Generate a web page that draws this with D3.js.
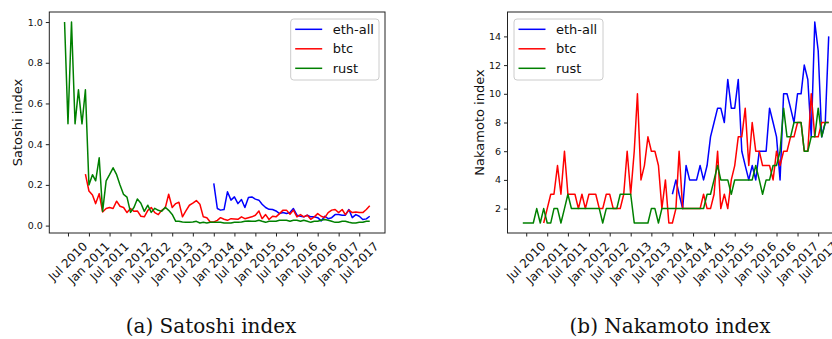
<!DOCTYPE html>
<html><head><meta charset="utf-8">
<script src="https://cdn.jsdelivr.net/npm/d3@7"></script>
<style>body{margin:0;background:#fff}svg{display:block}</style>
</head><body><svg id="c" width="832" height="339"></svg>
<script>
// ---------- data ----------
const tickLabels = ["Jul 2010","Jan 2011","Jul 2011","Jan 2012","Jul 2012","Jan 2013","Jul 2013",
  "Jan 2014","Jul 2014","Jan 2015","Jul 2015","Jan 2016","Jul 2016","Jan 2017","Jul 2017"];
const seriesNames = ["eth-all","btc","rust"];
const seriesColors = ["#0000ff","#ff0000","#008000"];
const seriesStart = ["Jan 2014","Dec 2010","Jun 2010"];   // first month of each series

const satoshiEth = [0.207,0.084,0.076,0.079,0.166,0.125,0.141,0.108,0.128,0.089,0.138,0.141,0.13,0.125,0.105,0.089,
  0.08,0.079,0.072,0.059,0.064,0.059,0.064,0.084,0.051,0.046,0.043,0.051,0.043,0.043,0.039,0.023,0.046,0.034,0.039,
  0.054,0.054,0.051,0.051,0.079,0.039,0.054,0.046,0.03,0.033,0.046];
const satoshiBtc = [0.253,0.17,0.15,0.108,0.157,0.067,0.084,0.089,
  0.084,0.12,0.095,0.089,0.064,0.084,0.07,0.072,
  0.046,0.043,0.075,0.089,0.064,0.054,0.075,0.087,
  0.154,0.089,0.108,0.115,0.043,0.072,0.10,0.11,
  0.123,0.105,0.043,0.039,0.018,0.018,0.026,0.039,
  0.031,0.026,0.034,0.033,0.031,0.043,0.034,0.039,
  0.043,0.051,0.072,0.034,0.054,0.030,0.046,0.043,
  0.059,0.076,0.076,0.056,0.076,0.043,0.054,0.043,
  0.051,0.031,0.043,0.059,0.046,0.039,0.064,0.076,
  0.079,0.064,0.079,0.054,0.076,0.064,0.067,0.064,
  0.064,0.079,0.097];
const satoshiRust = [1.0,0.5,1.0,0.5,0.667,0.5,0.667,0.2,
  0.25,0.22,0.333,0.07,0.22,0.25,0.284,0.25,
  0.2,0.153,0.14,0.065,0.09,0.131,0.11,0.07,
  0.1,0.065,0.085,0.075,0.07,0.09,0.075,0.055,
  0.021,0.021,0.018,0.016,0.016,0.018,0.021,0.013,
  0.016,0.013,0.016,0.016,0.016,0.016,0.013,0.013,
  0.013,0.016,0.016,0.018,0.021,0.023,0.021,0.021,
  0.026,0.021,0.016,0.021,0.021,0.021,0.026,0.026,
  0.026,0.021,0.026,0.026,0.021,0.026,0.021,0.016,
  0.021,0.021,0.026,0.03,0.026,0.021,0.016,0.016,
  0.021,0.021,0.016,0.013,0.013,0.016,0.016,0.021,
  0.021];

const nakamotoEth = [3,4,3,2,5,4,4,4,5,4, 5,7,8,9,9,8,11,9,9,11, 6,5,4,5,4,6,6,6,9,8,
  7,4,10,10,9,8,10,10,12,11, 7,15,13,7,8,14];
const nakamotoBtc = [1,2,3,3,5,3,6,3,3,3, 2,3,2,3,3,3,2,2,3,3, 2,2,2,3,6,3,6,10,4,5,
  7,6,6,5,2,4,1,1,2,6, 2,2,2,2,2,2,3,2,2,3, 6,2,3,2,4,5,7,7,9,5, 8,6,6,5,5,5,4,6,5,6,
  6,7,7,8,8,6,6,10,7,7, 8,8,8];
const nakamotoRust = [1,1,1,1,2,1,2,1,1,2, 2,1,2,3,2,2,2,2,2,2, 2,2,2,1,2,2,2,2,3,3,
  3,3,1,1,1,1,1,2,2,1, 2,2,2,2,2,2,2,2,2,2, 2,2,2,3,3,4,5,4,4,4, 3,4,4,4,4,4,4,5,4,3,
  4,4,5,5,6,9,7,7,8,8, 8,6,6,7,7,9,7,8,8];

const satoshiTicks = [0.0,0.2,0.4,0.6,0.8,1.0];
const nakamotoTicks = [2,4,6,8,10,12,14];

// ---------- drawing ----------
const parseM = d3.timeParse("%b %Y");
const svg = d3.select("#c");
const FONT = "DejaVu Sans, sans-serif";

function toPoints(values, start) {
  const s = parseM(start);
  return values.map((v, i) => ({d: d3.timeMonth.offset(s, i), v}));
}

function drawPanel(p) {
  const series = p.values.map((vals, i) => toPoints(vals, seriesStart[i]));
  const all = series.flat();
  const [d0, d1] = d3.extent(all, d => d.d);
  const span = d1 - d0;
  const x = d3.scaleTime()
    .domain([new Date(+d0 - span * 0.05), new Date(+d1 + span * 0.05)])
    .range([p.left, p.right]);
  const [v0, v1] = d3.extent(all, d => d.v);
  const vs = v1 - v0;
  const y = d3.scaleLinear().domain([v0 - vs * 0.05, v1 + vs * 0.05]).range([p.bottom, p.top]);

  const g = svg.append("g");
  const clipId = "clip" + p.id;
  svg.append("clipPath").attr("id", clipId).append("rect")
    .attr("x", p.left).attr("y", p.top).attr("width", p.right - p.left).attr("height", p.bottom - p.top);

  const line = d3.line().x(d => x(d.d)).y(d => y(d.v));
  const lg = g.append("g").attr("clip-path", `url(#${clipId})`);
  series.forEach((s, i) => {
    lg.append("path").datum(s).attr("d", line)
      .attr("fill", "none").attr("stroke", seriesColors[i])
      .attr("stroke-width", 1.5).attr("stroke-linejoin", "round");
  });

  // frame
  g.append("rect").attr("x", p.left).attr("y", p.top)
    .attr("width", p.right - p.left).attr("height", p.bottom - p.top)
    .attr("fill", "none").attr("stroke", "#222").attr("stroke-width", 1);

  // y axis
  const ya = d3.axisLeft(y).tickValues(p.yTicks).tickSize(3.5).tickPadding(3).tickFormat(p.yFmt);
  const yg = g.append("g").attr("transform", `translate(${p.left},0)`).call(ya);
  yg.select(".domain").remove();
  yg.selectAll("line").attr("stroke", "#222");
  yg.selectAll("text").attr("font-family", FONT).attr("font-size", 9.5).attr("fill", "#111");

  // x axis
  const tickDates = tickLabels.map(parseM);
  const xa = d3.axisBottom(x).tickValues(tickDates).tickSize(3.5).tickFormat("");
  const xg = g.append("g").attr("transform", `translate(0,${p.bottom})`).call(xa);
  xg.select(".domain").remove();
  xg.selectAll("line").attr("stroke", "#222");
  const fs = 12;
  tickDates.forEach((d, i) => {
    const t = g.append("text").text(tickLabels[i])
      .attr("font-family", FONT).attr("font-size", fs).attr("fill", "#111")
      .attr("text-anchor", "middle").attr("dominant-baseline", "central");
    const w = t.node().getComputedTextLength();
    const h = fs * 1.0;
    const half = (w + h) / (2 * Math.SQRT2);
    const cx = x(d), cy = p.bottom + 7 + half;
    t.attr("x", cx).attr("y", cy).attr("transform", `rotate(-45,${cx},${cy})`);
  });

  // y label
  g.append("text").text(p.ylabel)
    .attr("font-family", FONT).attr("font-size", 13).attr("fill", "#111")
    .attr("text-anchor", "middle").attr("dominant-baseline", "central")
    .attr("transform", `translate(${p.ylabelX},${(p.top + p.bottom) / 2}) rotate(-90)`);

  // legend
  const L = p.legend;
  g.append("rect").attr("x", L.x).attr("y", L.y).attr("width", L.w).attr("height", L.h)
    .attr("rx", 3).attr("fill", "#fff").attr("fill-opacity", 0.8)
    .attr("stroke", "#cccccc").attr("stroke-width", 1);
  seriesNames.forEach((n, i) => {
    const ry = L.y + 10.3 + i * 19.5;
    g.append("line").attr("x1", L.x + 4.5).attr("x2", L.x + 31.5).attr("y1", ry).attr("y2", ry)
      .attr("stroke", seriesColors[i]).attr("stroke-width", 1.5);
    g.append("text").text(n).attr("x", L.x + 42).attr("y", ry)
      .attr("font-family", FONT).attr("font-size", 13).attr("fill", "#111")
      .attr("dominant-baseline", "central");
  });

  // caption
  svg.append("text").text(p.caption).attr("x", p.capX).attr("y", 333)
    .attr("font-family", "DejaVu Serif, serif").attr("font-size", 20).attr("fill", "#111")
    .attr("text-anchor", "middle");
}

drawPanel({id: "a", left: 49.3, right: 385, top: 12, bottom: 233,
  values: [satoshiEth, satoshiBtc, satoshiRust], yTicks: satoshiTicks, yFmt: d3.format(".1f"),
  ylabel: "Satoshi index", ylabelX: 17.3,
  legend: {x: 290.7, y: 19, w: 88.3, h: 61}, caption: "(a) Satoshi index", capX: 211});

drawPanel({id: "b", left: 507.5, right: 844, top: 12, bottom: 233,
  values: [nakamotoEth, nakamotoBtc, nakamotoRust], yTicks: nakamotoTicks, yFmt: d3.format("d"),
  ylabel: "Nakamoto index", ylabelX: 479.3,
  legend: {x: 514, y: 19, w: 89, h: 61}, caption: "(b) Nakamoto index", capX: 670});
</script></body></html>
